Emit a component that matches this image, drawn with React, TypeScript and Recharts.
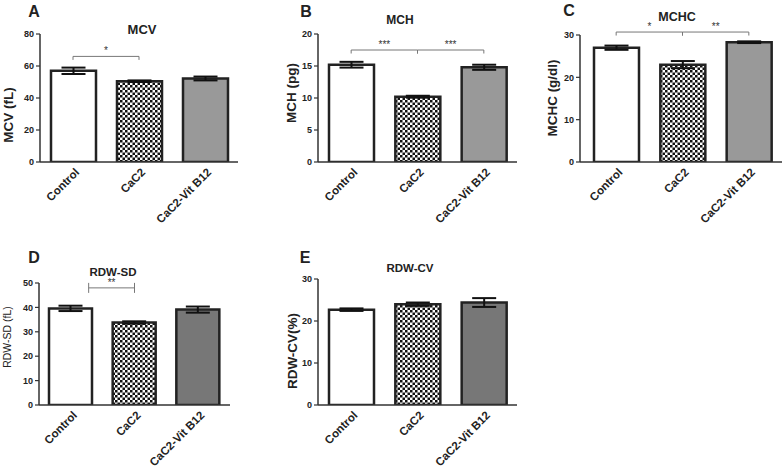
import React from "react";
import { BarChart, Bar, XAxis, YAxis, Cell, ErrorBar, ReferenceLine } from "recharts";

//data
const groups = ["Control", "CaC2", "CaC2-Vit B12"];

const mcv = [57, 50.5, 52.2];
const mcvErr = [2, 0.5, 1.2];
const mch = [15.2, 10.2, 14.8];
const mchErr = [0.45, 0.15, 0.4];
const mchc = [27, 23, 28.3];
const mchcErr = [0.5, 0.85, 0.2];
const rdwSd = [39.6, 33.8, 39.1];
const rdwSdErr = [1.1, 0.5, 1.25];
const rdwCv = [22.7, 24, 24.4];
const rdwCvErr = [0.3, 0.4, 1.05];

const mcvTicks = [0, 20, 40, 60, 80];
const mchTicks = [0, 5, 10, 15, 20];
const mchcTicks = [0, 10, 20, 30];
const rdwSdTicks = [0, 10, 20, 30, 40, 50];
const rdwCvTicks = [0, 10, 20, 30];

type Bracket = { from: string; to: string; y: number; label: string; caps?: boolean; startFrac?: number };

const mcvBrackets: Bracket[] = [{ from: "Control", to: "CaC2", y: 66, label: "*" }];
const mchBrackets: Bracket[] = [
  { from: "Control", to: "CaC2", y: 17.5, label: "***" },
  { from: "CaC2", to: "CaC2-Vit B12", y: 17.5, label: "***" },
];
const mchcBrackets: Bracket[] = [
  { from: "Control", to: "CaC2", y: 30.7, label: "*" },
  { from: "CaC2", to: "CaC2-Vit B12", y: 30.7, label: "**" },
];
const rdwSdBrackets: Bracket[] = [{ from: "Control", to: "CaC2", y: 48, label: "**", caps: true, startFrac: 0.28 }];

const FONT = '"Liberation Sans", Arial, Helvetica, sans-serif';
const INK = "#222";

const XTick = ({ x, y, payload }: any) => (
  <g transform={`translate(${x + 7},${y + 3})`}>
    <text textAnchor="end" transform="rotate(-45)" fontSize={11.5} fontWeight="bold" fill={INK} fontFamily={FONT}>
      {payload.value}
    </text>
  </g>
);

const bracketShape = (b: Bracket) => (props: any) => {
  const { x1, x2, y1 } = props;
  const xs = x1 + (x2 - x1) * (b.startFrac || 0);
  const path = b.caps
    ? `M${xs},${y1 - 5}V${y1 + 5}M${xs},${y1}H${x2}M${x2},${y1 - 5}V${y1 + 5}`
    : `M${xs},${y1 + 3.5}V${y1}H${x2}V${y1 + 3.5}`;
  return (
    <g>
      <path d={path} stroke="#777" strokeWidth={1} fill="none" />
      <text x={(xs + x2) / 2} y={y1 - 2} textAnchor="middle" fontSize={10} fill="#333" fontFamily={FONT}>
        {b.label}
      </text>
    </g>
  );
};

interface PanelProps {
  id: string;
  values: number[];
  errors: number[];
  ticks: number[];
  brackets: Bracket[];
  vitColor: string;
  left: number;
  top: number;
  width: number;
  height: number;
  plot: { l: number; r: number; t: number; b: number };
  padLeft?: number;
  barSize: number;
}

const Panel: React.FC<PanelProps> = ({ id, values, errors, ticks, brackets, vitColor, left, top, width, height, plot, padLeft = 0, barSize }) => {
  const data = groups.map((g, i) => ({ name: g, value: values[i], err: errors[i] }));
  const fills = ["#ffffff", `url(#check-${id})`, vitColor];
  return (
    <div style={{ position: "absolute", left, top }}>
      <BarChart
        width={width}
        height={height}
        data={data}
        margin={{ top: plot.t, right: width - plot.r, bottom: 0, left: 0 }}
        barSize={barSize}
      >
        <defs>
          <pattern id={`check-${id}`} width={5} height={5} patternUnits="userSpaceOnUse">
            <rect width={5} height={5} fill="#fff" />
            <rect width={2.5} height={2.5} fill="#111" />
            <rect x={2.5} y={2.5} width={2.5} height={2.5} fill="#111" />
          </pattern>
        </defs>
        <XAxis
          dataKey="name"
          height={height - plot.b}
          tickLine={false}
          axisLine={{ stroke: "#333", strokeWidth: 1.5 }}
          tick={<XTick />}
          interval={0}
          padding={{ left: padLeft, right: 0 }}
        />
        <YAxis
          width={plot.l}
          domain={[ticks[0], ticks[ticks.length - 1]]}
          ticks={ticks}
          allowDataOverflow
          tickSize={4}
          tickLine={{ stroke: "#333", strokeWidth: 1.2 }}
          axisLine={{ stroke: "#333", strokeWidth: 1.5 }}
          tick={{ fontSize: 9, fontWeight: "bold", fill: INK, fontFamily: FONT }}
        />
        <Bar dataKey="value" stroke="#222" strokeWidth={2.5} isAnimationActive={false}>
          {data.map((d, i) => (
            <Cell key={`cell-${i}`} fill={fills[i]} />
          ))}
          <ErrorBar dataKey="err" width={12} stroke="#111" strokeWidth={2} direction="y" />
        </Bar>
        {brackets.map((b, i) => (
          <ReferenceLine
            key={`br-${i}`}
            segment={[
              { x: b.from, y: b.y },
              { x: b.to, y: b.y },
            ]}
            ifOverflow="visible"
            shape={bracketShape(b)}
          />
        ))}
      </BarChart>
    </div>
  );
};

const Txt = ({ x, y, size, bold = true, rotate = false, children }: any) => (
  <div
    style={{
      position: "absolute",
      left: x,
      top: y,
      transform: `translate(-50%,-50%)${rotate ? " rotate(-90deg)" : ""}`,
      fontSize: size,
      fontWeight: bold ? "bold" : "normal",
      fontFamily: FONT,
      color: INK,
      whiteSpace: "nowrap",
      lineHeight: 1,
    }}
  >
    {children}
  </div>
);

export default function App() {
  return (
    <div style={{ position: "absolute", left: 0, top: 0, width: 783, height: 472, background: "#fff", overflow: "hidden" }}>
      <Panel id="a" values={mcv} errors={mcvErr} ticks={mcvTicks} brackets={mcvBrackets} vitColor="#999"
        left={0} top={0} width={260} height={235} plot={{ l: 40, r: 238, t: 34, b: 162 }} barSize={45} />
      <Panel id="b" values={mch} errors={mchErr} ticks={mchTicks} brackets={mchBrackets} vitColor="#999"
        left={260} top={0} width={260} height={235} plot={{ l: 58, r: 257, t: 34, b: 162 }} barSize={45} />
      <Panel id="c" values={mchc} errors={mchcErr} ticks={mchcTicks} brackets={mchcBrackets} vitColor="#999"
        left={520} top={0} width={263} height={235} plot={{ l: 60, r: 262, t: 35, b: 162 }} padLeft={3} barSize={45} />
      <Panel id="d" values={rdwSd} errors={rdwSdErr} ticks={rdwSdTicks} brackets={rdwSdBrackets} vitColor="#777"
        left={0} top={240} width={260} height={232} plot={{ l: 39, r: 230, t: 43, b: 165 }} barSize={43} />
      <Panel id="e" values={rdwCv} errors={rdwCvErr} ticks={rdwCvTicks} brackets={[]} vitColor="#777"
        left={260} top={240} width={260} height={232} plot={{ l: 58, r: 257, t: 39, b: 165 }} barSize={45} />

      <Txt x={34} y={12} size={16}>A</Txt>
      <Txt x={306} y={12} size={16}>B</Txt>
      <Txt x={569} y={11} size={16}>C</Txt>
      <Txt x={34} y={258} size={16}>D</Txt>
      <Txt x={305} y={258} size={16}>E</Txt>

      <Txt x={142} y={29} size={13}>MCV</Txt>
      <Txt x={400} y={20} size={12}>MCH</Txt>
      <Txt x={677} y={17} size={12.5}>MCHC</Txt>
      <Txt x={113} y={273} size={11.5}>RDW-SD</Txt>
      <Txt x={410} y={269} size={11.5}>RDW-CV</Txt>

      <Txt x={9} y={115} size={13.5} rotate>MCV (fL)</Txt>
      <Txt x={292} y={93} size={13.5} rotate>MCH (pg)</Txt>
      <Txt x={553} y={98} size={13.5} rotate>MCHC (g/dl)</Txt>
      <Txt x={7} y={337} size={10.5} bold={false} rotate>RDW-SD (fL)</Txt>
      <Txt x={293} y={351} size={13.5} rotate>RDW-CV(%)</Txt>
    </div>
  );
}
